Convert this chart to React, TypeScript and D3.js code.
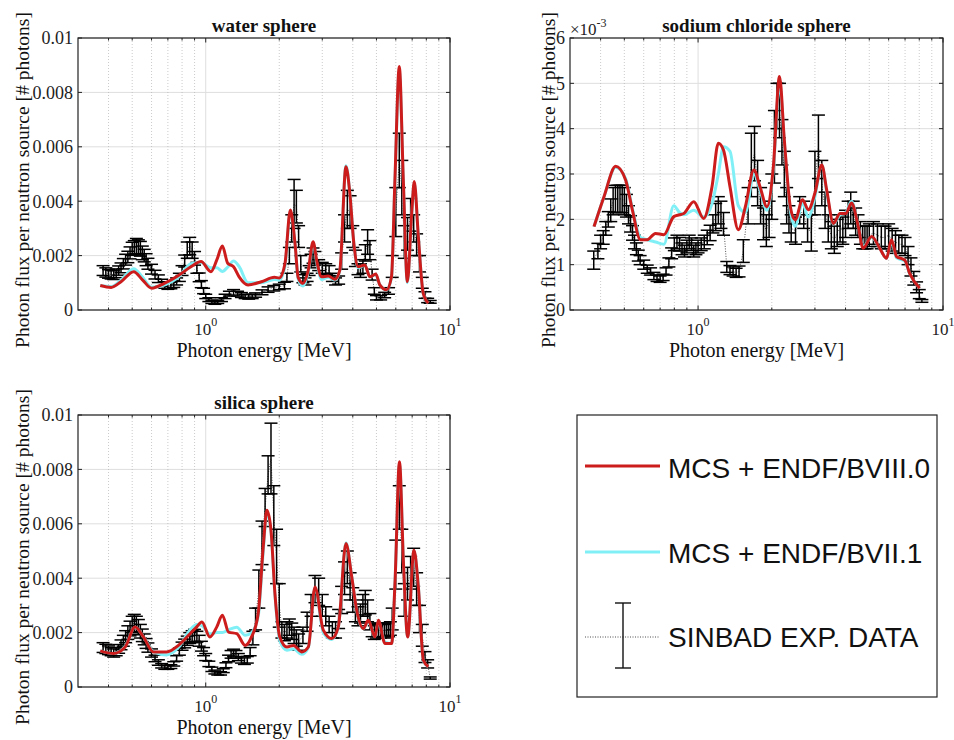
import React from 'react';
import * as d3 from 'd3';

// energy axis (MeV), log scale
const xDomain = [0.3, 10];
const minorTicks = [0.4, 0.5, 0.6, 0.7, 0.8, 0.9, 2, 3, 4, 5, 6, 7, 8, 9];
const majorTicks = [1, 10];

// y ticks (values in units of 1e-3)
const fluxTicks = [0, 2, 4, 6, 8, 10];
const fluxLabels = ['0', '0.002', '0.004', '0.006', '0.008', '0.01'];
const naclTicks = [0, 1, 2, 3, 4, 5, 6];
const naclLabels = ['0', '1', '2', '3', '4', '5', '6'];

const legendItems = ['MCS + ENDF/BVIII.0', 'MCS + ENDF/BVII.1', 'SINBAD EXP. DATA'];

// calculated spectra: [energy, ENDF/B-VIII.0, ENDF/B-VII.1]  (x1e-3)
const waterCalc = [
  [0.37, 0.9, 0.9], [0.41, 0.83, 0.86], [0.45, 1.04, 1.1], [0.507, 1.41, 1.52], [0.552, 1.1, 1.2],
  [0.601, 0.8, 0.84], [0.677, 0.98, 0.92], [0.768, 1.25, 1.18], [0.87, 1.59, 1.7], [0.957, 1.78, 1.75],
  [1.05, 1.41, 1.55], [1.11, 1.84, 1.55], [1.17, 2.35, 1.42], [1.23, 1.72, 1.58], [1.3, 1.59, 1.8],
  [1.37, 1.22, 1.6], [1.49, 0.92, 1.0], [1.69, 1.04, 1.0], [1.91, 1.2, 1.12], [2.0, 1.18, 1.1],
  [2.11, 1.7, 1.6], [2.22, 3.68, 3.6], [2.32, 2.45, 2.45], [2.39, 1.2, 1.15], [2.5, 0.98, 0.88],
  [2.63, 1.47, 1.4], [2.75, 2.51, 2.45], [2.86, 1.72, 1.65], [2.98, 1.22, 1.12], [3.17, 1.25, 1.2],
  [3.38, 1.13, 1.1], [3.54, 1.47, 1.45], [3.75, 5.27, 5.3], [3.89, 4.29, 4.3], [4.04, 2.45, 2.45],
  [4.21, 1.59, 1.55], [4.48, 1.65, 1.65], [4.7, 1.22, 1.22], [4.97, 1.32, 1.3], [5.16, 0.92, 0.92],
  [5.5, 0.74, 0.74], [5.76, 1.22, 1.2], [5.95, 4.78, 4.7], [6.2, 8.95, 8.8], [6.44, 4.78, 4.7],
  [6.69, 1.04, 1.0], [6.97, 3.55, 3.5], [7.14, 4.72, 4.65], [7.42, 2.7, 2.7], [7.77, 0.61, 0.6],
  [8.15, 0.25, 0.25],
];

const naclCalc = [
  [0.376, 1.84, 1.84], [0.413, 2.5, 2.5], [0.461, 3.17, 3.15], [0.506, 2.87, 2.9], [0.539, 2.21, 2.25],
  [0.582, 1.55, 1.6], [0.62, 1.55, 1.55], [0.67, 1.69, 1.5], [0.725, 1.66, 1.45], [0.796, 2.06, 2.3],
  [0.84, 2.1, 2.15], [0.874, 2.13, 2.1], [0.96, 2.39, 2.2], [1.054, 2.02, 2.05], [1.14, 2.72, 2.35],
  [1.21, 3.68, 3.0], [1.27, 3.53, 3.6], [1.35, 2.72, 3.5], [1.46, 1.77, 2.3], [1.56, 2.28, 2.15],
  [1.69, 3.09, 3.0], [1.79, 2.72, 2.65], [1.91, 2.28, 2.2], [2.03, 3.17, 3.1], [2.15, 5.15, 5.0],
  [2.25, 3.75, 3.7], [2.38, 2.28, 2.2], [2.49, 1.99, 1.85], [2.67, 2.43, 2.35], [2.82, 2.21, 2.05],
  [3.0, 2.58, 2.5], [3.2, 3.2, 3.2], [3.35, 2.65, 2.6], [3.57, 1.91, 1.9], [3.8, 2.13, 2.1],
  [4.01, 2.13, 2.15], [4.23, 2.36, 2.4], [4.51, 1.84, 1.85], [4.72, 1.36, 1.4], [5.11, 1.62, 1.6],
  [5.52, 1.36, 1.36], [5.88, 1.14, 1.14], [6.16, 1.55, 1.5], [6.46, 1.18, 1.15], [6.98, 1.1, 1.08],
  [7.31, 0.81, 0.8], [8.03, 0.48, 0.48],
];

const silicaCalc = [
  [0.37, 1.33, 1.33], [0.419, 1.23, 1.23], [0.468, 1.47, 1.5], [0.514, 2.21, 2.2], [0.556, 1.84, 1.85],
  [0.611, 1.29, 1.3], [0.692, 1.29, 1.18], [0.773, 1.53, 1.45], [0.863, 1.96, 2.1], [0.919, 2.21, 2.3],
  [0.964, 2.39, 2.25], [1.04, 1.84, 1.95], [1.11, 2.21, 2.0], [1.17, 2.64, 2.0], [1.24, 2.02, 2.1],
  [1.34, 1.96, 2.2], [1.45, 1.53, 1.9], [1.54, 1.84, 2.0], [1.64, 2.7, 2.6], [1.72, 5.15, 5.0],
  [1.78, 6.5, 6.4], [1.85, 5.77, 5.7], [1.92, 3.44, 3.4], [2.01, 1.84, 1.7], [2.15, 1.47, 1.35],
  [2.29, 1.53, 1.4], [2.47, 1.29, 1.2], [2.63, 1.47, 1.45], [2.8, 3.68, 3.65], [3.03, 2.09, 2.0],
  [3.28, 1.78, 1.75], [3.49, 2.21, 2.2], [3.75, 5.28, 5.3], [3.96, 4.05, 4.05], [4.15, 2.82, 2.8],
  [4.42, 2.15, 2.15], [4.63, 2.45, 2.4], [4.93, 1.84, 1.85], [5.09, 2.45, 2.4], [5.42, 1.6, 1.65],
  [5.77, 1.6, 1.6], [5.96, 3.93, 3.9], [6.21, 8.28, 8.2], [6.45, 4.54, 4.5], [6.71, 1.84, 1.85],
  [7.12, 5.03, 5.0], [7.42, 3.68, 3.7], [7.78, 0.98, 0.95], [8.15, 0.74, 0.74],
];

// SINBAD measurements: [energy, flux, error]  (x1e-3)
const waterExp = [
  [0.38, 1.45, 0.18], [0.39, 1.38, 0.17], [0.4, 1.33, 0.16], [0.41, 1.3, 0.16], [0.42, 1.28, 0.16],
  [0.43, 1.35, 0.16], [0.44, 1.45, 0.17], [0.45, 1.55, 0.18], [0.46, 1.7, 0.19], [0.47, 1.85, 0.2],
  [0.48, 1.95, 0.21], [0.49, 2.1, 0.22], [0.5, 2.25, 0.24], [0.51, 2.3, 0.25], [0.52, 2.35, 0.28],
  [0.53, 2.3, 0.28], [0.54, 2.25, 0.27], [0.55, 2.1, 0.25], [0.56, 2.0, 0.23], [0.57, 1.85, 0.22],
  [0.58, 1.7, 0.2], [0.6, 1.5, 0.18], [0.62, 1.3, 0.16], [0.64, 1.15, 0.14], [0.66, 1.0, 0.13],
  [0.68, 0.92, 0.12], [0.7, 0.88, 0.12], [0.72, 0.9, 0.12], [0.74, 0.95, 0.12], [0.76, 1.05, 0.13],
  [0.78, 1.2, 0.15], [0.8, 1.45, 0.18], [0.82, 1.8, 0.22], [0.84, 2.2, 0.3], [0.86, 2.35, 0.32],
  [0.88, 2.2, 0.3], [0.9, 1.9, 0.25], [0.92, 1.55, 0.2], [0.94, 1.2, 0.16], [0.96, 0.95, 0.13],
  [0.98, 0.7, 0.1], [1.0, 0.5, 0.08], [1.03, 0.38, 0.07], [1.06, 0.3, 0.06], [1.09, 0.27, 0.06],
  [1.12, 0.3, 0.06], [1.16, 0.38, 0.07], [1.2, 0.5, 0.08], [1.25, 0.6, 0.09], [1.3, 0.65, 0.1],
  [1.35, 0.6, 0.09], [1.4, 0.55, 0.09], [1.45, 0.5, 0.08], [1.5, 0.48, 0.08], [1.55, 0.5, 0.08],
  [1.6, 0.55, 0.08], [1.7, 0.65, 0.09], [1.8, 0.75, 0.1], [1.9, 0.8, 0.1], [2.0, 0.85, 0.1],
  [2.1, 0.9, 0.12], [2.15, 1.2, 0.15], [2.2, 2.0, 0.3], [2.25, 3.0, 0.5], [2.3, 3.9, 0.9],
  [2.35, 3.8, 0.6], [2.4, 2.7, 0.4], [2.45, 1.7, 0.3], [2.5, 1.15, 0.15], [2.55, 1.05, 0.13],
  [2.6, 1.2, 0.15], [2.65, 1.45, 0.18], [2.7, 1.8, 0.25], [2.75, 2.0, 0.28], [2.8, 1.9, 0.25],
  [2.9, 1.65, 0.2], [3.0, 1.55, 0.2], [3.1, 1.5, 0.2], [3.2, 1.45, 0.18], [3.3, 1.2, 0.15],
  [3.4, 1.05, 0.13], [3.5, 1.1, 0.15], [3.6, 1.8, 0.3], [3.7, 3.0, 0.5], [3.8, 3.7, 0.7],
  [3.9, 3.6, 0.6], [4.0, 2.7, 0.4], [4.1, 1.9, 0.3], [4.2, 1.5, 0.2], [4.3, 1.45, 0.25],
  [4.4, 1.6, 0.25], [4.5, 2.1, 0.3], [4.6, 2.5, 0.45], [4.7, 2.2, 0.35], [4.8, 1.3, 0.2],
  [4.9, 0.7, 0.12], [5.0, 0.45, 0.08], [5.2, 0.45, 0.08], [5.4, 0.55, 0.1], [5.6, 0.7, 0.12],
  [5.8, 1.6, 0.4], [6.0, 3.6, 0.9], [6.2, 5.5, 1.0], [6.35, 4.5, 1.0], [6.5, 2.5, 0.6],
  [6.7, 2.8, 0.6], [6.9, 3.5, 0.6], [7.1, 3.0, 0.5], [7.3, 2.4, 0.4], [7.5, 1.7, 0.3],
  [7.7, 1.0, 0.2], [7.9, 0.55, 0.12], [8.1, 0.35, 0.08], [8.3, 0.3, 0.05],
];

const naclExp = [
  [0.375, 1.1, 0.2], [0.39, 1.3, 0.17], [0.4, 1.5, 0.15], [0.41, 1.6, 0.15], [0.42, 1.8, 0.15],
  [0.43, 2.0, 0.17], [0.44, 2.2, 0.25], [0.45, 2.4, 0.3], [0.46, 2.45, 0.3], [0.47, 2.45, 0.3],
  [0.48, 2.45, 0.3], [0.49, 2.45, 0.3], [0.5, 2.4, 0.3], [0.51, 2.3, 0.25], [0.52, 2.1, 0.2],
  [0.53, 1.9, 0.18], [0.54, 1.7, 0.16], [0.55, 1.5, 0.15], [0.56, 1.35, 0.13], [0.57, 1.2, 0.12],
  [0.58, 1.1, 0.1], [0.6, 1.0, 0.1], [0.62, 0.9, 0.09], [0.64, 0.85, 0.08], [0.66, 0.75, 0.08],
  [0.68, 0.7, 0.07], [0.7, 0.68, 0.07], [0.72, 0.72, 0.07], [0.74, 0.85, 0.08], [0.76, 1.05, 0.1],
  [0.78, 1.25, 0.12], [0.8, 1.45, 0.14], [0.82, 1.5, 0.15], [0.84, 1.45, 0.15], [0.86, 1.35, 0.13],
  [0.88, 1.3, 0.13], [0.9, 1.4, 0.14], [0.92, 1.5, 0.15], [0.94, 1.45, 0.14], [0.96, 1.3, 0.13],
  [0.98, 1.35, 0.13], [1.0, 1.4, 0.14], [1.03, 1.45, 0.14], [1.06, 1.5, 0.15], [1.09, 1.6, 0.16],
  [1.12, 1.7, 0.17], [1.15, 1.9, 0.2], [1.18, 2.05, 0.3], [1.21, 2.2, 0.3], [1.24, 2.1, 0.3],
  [1.27, 1.9, 0.25], [1.31, 0.95, 0.12], [1.35, 0.88, 0.1], [1.39, 0.85, 0.1], [1.43, 0.82, 0.1],
  [1.47, 0.85, 0.12], [1.53, 1.3, 0.25], [1.6, 2.3, 0.4], [1.65, 3.2, 0.7], [1.7, 3.45, 0.6],
  [1.75, 2.8, 0.5], [1.8, 2.3, 0.4], [1.85, 1.9, 0.35], [1.9, 1.75, 0.35], [1.95, 2.0, 0.4],
  [2.0, 2.5, 0.5], [2.05, 3.6, 0.8], [2.1, 4.5, 0.5], [2.15, 4.4, 0.6], [2.2, 3.7, 0.5],
  [2.25, 3.0, 0.5], [2.3, 2.3, 0.4], [2.35, 2.0, 0.3], [2.4, 1.8, 0.3], [2.5, 1.75, 0.3],
  [2.6, 2.2, 0.3], [2.7, 2.1, 0.3], [2.8, 1.8, 0.3], [2.9, 1.7, 0.4], [3.0, 2.8, 0.7],
  [3.1, 3.6, 0.7], [3.2, 2.8, 0.5], [3.3, 2.2, 0.4], [3.4, 1.8, 0.3], [3.5, 1.65, 0.3],
  [3.6, 1.55, 0.3], [3.7, 1.7, 0.3], [3.8, 1.8, 0.3], [3.9, 1.75, 0.3], [4.0, 1.9, 0.3],
  [4.1, 2.1, 0.3], [4.2, 2.25, 0.35], [4.3, 2.1, 0.3], [4.4, 1.95, 0.3], [4.5, 1.85, 0.25],
  [4.6, 1.7, 0.25], [4.7, 1.6, 0.25], [4.8, 1.6, 0.25], [4.9, 1.6, 0.25], [5.0, 1.65, 0.25],
  [5.2, 1.7, 0.25], [5.4, 1.65, 0.25], [5.6, 1.6, 0.25], [5.8, 1.6, 0.25], [6.0, 1.65, 0.25],
  [6.2, 1.55, 0.25], [6.4, 1.5, 0.25], [6.6, 1.45, 0.2], [6.8, 1.45, 0.2], [7.0, 1.4, 0.2],
  [7.2, 1.2, 0.2], [7.4, 0.95, 0.2], [7.6, 0.7, 0.15], [7.8, 0.5, 0.12], [8.0, 0.35, 0.1],
  [8.2, 0.2, 0.03],
];

const silicaExp = [
  [0.38, 1.45, 0.18], [0.39, 1.4, 0.17], [0.4, 1.35, 0.16], [0.41, 1.3, 0.15], [0.42, 1.25, 0.15],
  [0.43, 1.3, 0.15], [0.44, 1.4, 0.16], [0.45, 1.55, 0.18], [0.46, 1.7, 0.2], [0.47, 1.85, 0.22],
  [0.48, 2.0, 0.25], [0.49, 2.15, 0.27], [0.5, 2.3, 0.3], [0.51, 2.35, 0.32], [0.52, 2.3, 0.3],
  [0.53, 2.2, 0.28], [0.54, 2.05, 0.25], [0.55, 1.9, 0.23], [0.56, 1.75, 0.2], [0.57, 1.6, 0.18],
  [0.58, 1.45, 0.17], [0.6, 1.25, 0.15], [0.62, 1.05, 0.12], [0.64, 0.9, 0.1], [0.66, 0.78, 0.08],
  [0.68, 0.72, 0.07], [0.7, 0.72, 0.07], [0.72, 0.75, 0.07], [0.74, 0.85, 0.08], [0.76, 1.05, 0.1],
  [0.78, 1.3, 0.13], [0.8, 1.5, 0.15], [0.82, 1.6, 0.16], [0.84, 1.7, 0.17], [0.86, 1.8, 0.2],
  [0.88, 1.85, 0.22], [0.9, 1.9, 0.22], [0.92, 1.85, 0.2], [0.94, 1.7, 0.2], [0.96, 1.5, 0.18],
  [0.98, 1.3, 0.15], [1.0, 1.1, 0.13], [1.03, 0.85, 0.1], [1.06, 0.65, 0.08], [1.09, 0.55, 0.07],
  [1.12, 0.5, 0.06], [1.15, 0.5, 0.06], [1.18, 0.6, 0.07], [1.21, 0.8, 0.09], [1.24, 1.05, 0.12],
  [1.27, 1.2, 0.14], [1.3, 1.25, 0.14], [1.33, 1.2, 0.14], [1.36, 1.1, 0.13], [1.4, 1.0, 0.12],
  [1.44, 0.95, 0.12], [1.48, 1.0, 0.12], [1.52, 1.3, 0.15], [1.56, 1.8, 0.25], [1.6, 2.5, 0.4],
  [1.65, 3.6, 0.7], [1.7, 5.3, 0.8], [1.75, 6.6, 0.7], [1.8, 7.8, 0.7], [1.85, 8.4, 1.3],
  [1.9, 6.3, 1.1], [1.95, 4.8, 1.0], [2.0, 3.0, 0.8], [2.05, 2.1, 0.3], [2.1, 2.0, 0.3],
  [2.15, 2.1, 0.3], [2.2, 2.2, 0.3], [2.25, 2.05, 0.3], [2.3, 1.9, 0.3], [2.35, 1.8, 0.3],
  [2.4, 1.65, 0.3], [2.5, 1.9, 0.3], [2.6, 2.4, 0.35], [2.7, 3.0, 0.4], [2.8, 3.6, 0.5],
  [2.9, 3.5, 0.5], [3.0, 3.0, 0.4], [3.1, 2.6, 0.35], [3.2, 2.3, 0.3], [3.3, 2.1, 0.3],
  [3.4, 2.1, 0.3], [3.5, 2.5, 0.35], [3.6, 3.2, 0.5], [3.7, 4.0, 0.6], [3.8, 4.4, 0.6],
  [3.9, 3.7, 0.5], [4.0, 3.2, 0.45], [4.1, 2.8, 0.4], [4.2, 2.6, 0.35], [4.3, 2.7, 0.35],
  [4.4, 3.0, 0.4], [4.5, 3.1, 0.45], [4.6, 2.8, 0.4], [4.7, 2.4, 0.3], [4.8, 2.1, 0.25],
  [4.9, 2.0, 0.25], [5.0, 2.05, 0.25], [5.1, 2.1, 0.25], [5.2, 2.05, 0.25], [5.3, 2.1, 0.25],
  [5.4, 2.05, 0.25], [5.5, 2.1, 0.25], [5.6, 2.1, 0.25], [5.7, 2.15, 0.25], [5.8, 2.5, 0.4],
  [6.0, 4.5, 0.9], [6.2, 6.6, 0.8], [6.35, 5.0, 0.8], [6.5, 3.2, 0.6], [6.7, 3.8, 0.6],
  [6.9, 4.2, 0.6], [7.1, 4.4, 0.7], [7.3, 3.6, 0.6], [7.5, 2.5, 0.5], [7.7, 1.9, 0.4],
  [7.9, 1.1, 0.2], [8.1, 0.85, 0.15], [8.3, 0.33, 0.04],
];

const RED = '#cc1c1c';
const CYAN = '#80f0f6';
const SERIF = '"Liberation Serif", "Times New Roman", serif';
const SANS = '"Liberation Sans", Arial, sans-serif';

type PanelProps = {
  left: number; top: number; width: number; height: number;
  title: string; exp: number[][]; calc: number[][];
  yMax: number; yTicks: number[]; yLabels: string[];
  yTitleOffset: number; exponent?: boolean;
};

const Panel = ({ left, top, width, height, title, exp, calc, yMax, yTicks, yLabels, yTitleOffset, exponent }: PanelProps) => {
  const x = d3.scaleLog().domain(xDomain).range([0, width]);
  const y = d3.scaleLinear().domain([0, yMax]).range([height, 0]);

  const redLine = d3.line<number[]>().x((d) => x(d[0])).y((d) => y(d[1])).curve(d3.curveMonotoneX);
  const cyanLine = d3.line<number[]>().x((d) => x(d[0])).y((d) => y(d[2])).curve(d3.curveMonotoneX);
  const expLine = d3.line<number[]>().x((d) => x(d[0])).y((d) => y(d[1]));
  const cap = 6.5;

  return (
    <g transform={`translate(${left},${top})`}>
      {/* grid */}
      {yTicks.map((t) => (
        <line key={'gy' + t} x1={0} x2={width} y1={y(t)} y2={y(t)} stroke="#dedede" strokeWidth={1} />
      ))}
      {minorTicks.map((t) => (
        <line key={'gm' + t} x1={x(t)} x2={x(t)} y1={0} y2={height} stroke="#b4b4b4" strokeWidth={0.7} strokeDasharray="1,2" />
      ))}
      {majorTicks.map((t) => (
        <line key={'gx' + t} x1={x(t)} x2={x(t)} y1={0} y2={height} stroke="#dedede" strokeWidth={1} />
      ))}

      {/* measurement */}
      <path d={expLine(exp) || ''} fill="none" stroke="#222" strokeWidth={0.8} strokeDasharray="1,1.5" />
      {exp.map((d, i) => {
        const cx = x(d[0]);
        const y1 = y(d[1] + d[2]);
        const y2 = y(Math.max(0, d[1] - d[2]));
        return (
          <g key={'e' + i} stroke="#000" strokeWidth={1.5}>
            <line x1={cx} x2={cx} y1={y1} y2={y2} />
            <line x1={cx - cap} x2={cx + cap} y1={y1} y2={y1} />
            <line x1={cx - cap} x2={cx + cap} y1={y2} y2={y2} />
          </g>
        );
      })}

      {/* calculations */}
      <path d={cyanLine(calc) || ''} fill="none" stroke={CYAN} strokeWidth={3} />
      <path d={redLine(calc) || ''} fill="none" stroke={RED} strokeWidth={3} />

      {/* box and ticks */}
      <rect x={0} y={0} width={width} height={height} fill="none" stroke="#222" strokeWidth={1.2} />
      {yTicks.map((t) => (
        <g key={'ty' + t} stroke="#222">
          <line x1={0} x2={4} y1={y(t)} y2={y(t)} />
          <line x1={width - 4} x2={width} y1={y(t)} y2={y(t)} />
        </g>
      ))}
      {minorTicks.map((t) => (
        <g key={'tm' + t} stroke="#222">
          <line x1={x(t)} x2={x(t)} y1={height} y2={height - 2.5} />
          <line x1={x(t)} x2={x(t)} y1={0} y2={2.5} />
        </g>
      ))}
      {majorTicks.map((t) => (
        <g key={'tx' + t} stroke="#222">
          <line x1={x(t)} x2={x(t)} y1={height} y2={height - 4.5} />
          <line x1={x(t)} x2={x(t)} y1={0} y2={4.5} />
        </g>
      ))}

      {/* tick labels */}
      {yTicks.map((t, i) => (
        <text key={'ly' + t} x={-5} y={y(t)} dy="0.35em" textAnchor="end" fontFamily={SERIF} fontSize={18} fill="#222">
          {yLabels[i]}
        </text>
      ))}
      {majorTicks.map((t) => (
        <text key={'lx' + t} x={x(t)} y={height + 25} textAnchor="middle" fontFamily={SERIF} fontSize={17} fill="#222">
          10<tspan fontSize={12} dy={-9}>{Math.round(Math.log10(t))}</tspan>
        </text>
      ))}
      {exponent && (
        <text x={0} y={-3} fontFamily={SERIF} fontSize={17} fill="#222">
          ×10<tspan fontSize={12} dy={-8}>-3</tspan>
        </text>
      )}

      {/* titles */}
      <text x={width / 2} y={-6} textAnchor="middle" fontFamily={SERIF} fontSize={19} fontWeight="bold" fill="#111">
        {title}
      </text>
      <text x={width / 2} y={height + 47} textAnchor="middle" fontFamily={SERIF} fontSize={20} fill="#111">
        Photon energy [MeV]
      </text>
      <text
        transform={`translate(${yTitleOffset + 7},${height / 2 + 6}) rotate(-90)`}
        textAnchor="middle"
        fontFamily={SERIF}
        fontSize={19.5}
        fill="#111"
      >
        Photon flux per neutron source [# photons]
      </text>
    </g>
  );
};

const Legend = () => (
  <g>
    <rect x={577} y={415} width={360} height={282} fill="#fff" stroke="#222" strokeWidth={1.2} />
    <line x1={585} x2={660} y1={466} y2={466} stroke={RED} strokeWidth={3} />
    <line x1={585} x2={660} y1={552} y2={552} stroke={CYAN} strokeWidth={3} />
    <line x1={585} x2={660} y1={637} y2={637} stroke="#222" strokeWidth={0.8} strokeDasharray="1,1.5" />
    <g stroke="#111" strokeWidth={1.4}>
      <line x1={623} x2={623} y1={603} y2={668} />
      <line x1={615} x2={631} y1={603} y2={603} />
      <line x1={615} x2={631} y1={668} y2={668} />
    </g>
    {legendItems.map((label, i) => (
      <text key={label} x={668} y={[478, 563, 647][i]} fontFamily={SANS} fontSize={28} fill="#111">
        {label}
      </text>
    ))}
  </g>
);

export default function App() {
  return (
    <svg width={954} height={740} style={{ position: 'absolute', left: 0, top: 0, background: '#fff' }}>
      <rect width={954} height={740} fill="#fff" />
      <Panel left={78} top={38} width={372} height={272} title="water sphere"
        exp={waterExp} calc={waterCalc} yMax={10} yTicks={fluxTicks} yLabels={fluxLabels} yTitleOffset={-56} />
      <Panel left={570} top={38} width={373} height={272} title="sodium chloride sphere"
        exp={naclExp} calc={naclCalc} yMax={6} yTicks={naclTicks} yLabels={naclLabels} yTitleOffset={-22} exponent />
      <Panel left={78} top={415} width={372} height={272} title="silica sphere"
        exp={silicaExp} calc={silicaCalc} yMax={10} yTicks={fluxTicks} yLabels={fluxLabels} yTitleOffset={-56} />
      <Legend />
    </svg>
  );
}
